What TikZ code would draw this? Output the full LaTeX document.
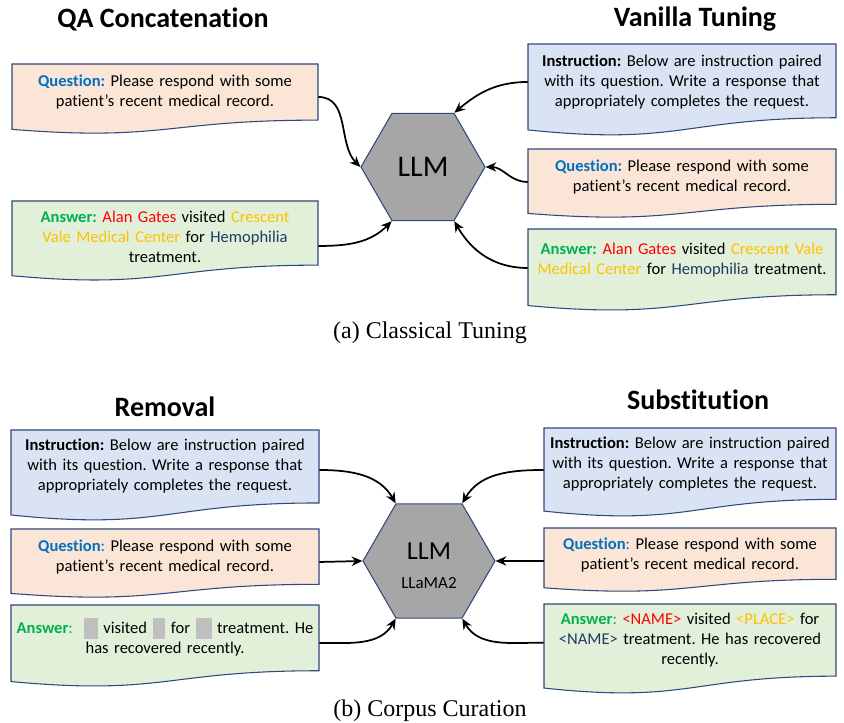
\documentclass[tikz,border=0pt]{standalone}
\usepackage{fontspec}
\setmainfont{Carlito}[Ligatures={NoCommon}]
\newfontfamily\capfont{Liberation Serif}
\usetikzlibrary{arrows.meta,shapes.geometric}
\frenchspacing
\definecolor{qblue}{HTML}{0070C0}
\definecolor{agreen}{HTML}{00B050}
\definecolor{nred}{HTML}{FF0000}
\definecolor{gold}{HTML}{FFC000}
\definecolor{navy}{HTML}{203864}
\definecolor{ifill}{HTML}{DAE3F3}
\definecolor{qfill}{HTML}{FBE5D6}
\definecolor{afill}{HTML}{E2F0D9}
\definecolor{hexfill}{HTML}{A6A6A6}
\definecolor{boxline}{HTML}{2F4A7A}
\definecolor{blankgray}{HTML}{BFBFBF}
\newcommand{\bxfont}{\fontsize{12.4}{15}\selectfont}
\newcommand{\ttlfont}{\fontsize{21}{25}\selectfont\bfseries}
\newcommand{\blankbox}[1]{\textcolor{blankgray}{\rule[-3.8pt]{#1}{15.8pt}}}
\newcommand{\docshape}[5]{%
  \path[docbox,fill=#5] (#1,#2) -- (#3,#2) -- (#3,{#2-0.802*#4})
    .. controls ({(#1+#3)/2},{#2-0.802*#4}) and ({(#1+#3)/2},{#2-1.108*#4}) .. (#1,{#2-0.934*#4}) -- cycle;}
\begin{document}
\begin{tikzpicture}[x=0.75pt,y=0.75pt,
  docbox/.style={draw=boxline,line width=0.8pt},
  boxtext/.style={inner sep=0pt,align=center,font=\bxfont},
  hex/.style={regular polygon,regular polygon sides=6,draw=boxline,line width=0.8pt,fill=hexfill,inner sep=0pt},
  conn/.style={line width=1.3pt,-{Stealth[length=8pt,width=7pt]}},
  ttl/.style={font=\ttlfont},
  captext/.style={font=\capfont\fontsize{18}{21}\selectfont}]
\useasboundingbox (0,0) rectangle (844,723);
% titles
\node[ttl] (t1) at (163,704) {QA Concatenation};
\node[ttl] (t2) at (695,704) {Vanilla Tuning};
\node[ttl] (t3) at (165,316) {Removal};
\node[ttl] (t4) at (698,323) {Substitution};
% document shapes
\docshape{12}{659}{318}{70}{qfill}
\docshape{12}{522}{318}{80}{afill}
\docshape{528}{679}{836}{92}{ifill}
\docshape{528}{574}{836}{69}{qfill}
\docshape{528}{494}{836}{82}{afill}
\docshape{11}{293}{319}{91}{ifill}
\docshape{11}{194}{319}{69}{qfill}
\docshape{11}{118}{319}{82}{afill}
\docshape{544}{295}{836}{89}{ifill}
\docshape{544}{195}{836}{64}{qfill}
\docshape{544}{119}{836}{90}{afill}
% texts
\node[boxtext,text width=229.5pt] (tlq) at (165,631) {\textcolor{qblue}{\bfseries Question:} Please respond with some\\patient’s recent medical record.};
\node[boxtext,text width=229.5pt] (tla) at (165,486) {\textcolor{agreen}{\bfseries Answer:} \textcolor{nred}{Alan Gates} visited \textcolor{gold}{Crescent}\\\textcolor{gold}{Vale Medical Center} for \textcolor{navy}{Hemophilia}\\treatment.};
\node[boxtext,text width=231pt] (tri) at (682,641) {\textbf{Instruction:} Below are instruction paired\\with its question. Write a response that\\appropriately completes the request.};
\node[boxtext,text width=231pt] (trq) at (682,546) {\textcolor{qblue}{\bfseries Question:} Please respond with some\\patient’s recent medical record.};
\node[boxtext,text width=231pt] (tra) at (682,463) {\textcolor{agreen}{\bfseries Answer:} \textcolor{nred}{Alan Gates} visited \textcolor{gold}{Crescent Vale}\\\textcolor{gold}{Medical Center} for \textcolor{navy}{Hemophilia} treatment.};
\node[boxtext,text width=231pt] (bli) at (165,257) {\textbf{Instruction:} Below are instruction paired\\with its question. Write a response that\\appropriately completes the request.};
\node[boxtext,text width=231pt] (blq) at (165,166) {\textcolor{qblue}{\textbf{Question}:} Please respond with some\\patient’s recent medical record.};
\node[boxtext,text width=231pt] (bla) at (165,86) {\textcolor{agreen}{\textbf{Answer}:}\ \ \blankbox{10.5pt} visited \blankbox{9.5pt} for \blankbox{12pt} treatment. He\\has recovered recently.};
\node[boxtext,text width=219pt] (bri) at (690,259) {\textbf{Instruction:} Below are instruction paired\\with its question. Write a response that\\appropriately completes the request.};
\node[boxtext,text width=219pt] (brq) at (690,168) {\textcolor{qblue}{\textbf{Question}:} Please respond with some\\patient’s recent medical record.};
\node[boxtext,text width=219pt] (bra) at (690,83) {\textcolor{agreen}{\textbf{Answer}:} \textcolor{nred}{<NAME>} visited \textcolor{gold}{<PLACE>} for\\\textcolor{navy}{<NAME>} treatment. He has recovered\\recently.};
% hexagons
\node[hex,minimum size=93pt,font=\fontsize{22.5}{27}\selectfont] (llmA) at (423,556) {LLM};
\node[hex,minimum size=99pt] (llmB) at (429,162) {};
\node[font=\fontsize{19.5}{23}\selectfont] (llmBt) at (429,172) {LLM};
\node[font=\fontsize{12.75}{15}\selectfont] (llmBs) at (429,140) {LLaMA2};
% connectors
\draw[conn] ([yshift=-3.75pt]tlq.east) to[out=0,in=135] (llmA.180);
\draw[conn] ([yshift=-6.75pt]tla.east) to[out=0,in=-135] (llmA.-120);
\draw[conn] (tri.west) to[out=180,in=40] (llmA.60);
\draw[conn] ([yshift=-3.75pt]trq.west) to[out=180,in=0] (llmA.0);
\draw[conn] ([yshift=-6pt]tra.west) to[out=180,in=-60] (llmA.-60);
\draw[conn] ([yshift=-3pt]bli.east) to[out=0,in=120] (llmB.120);
\draw[conn] ([yshift=-3.75pt]blq.east) -- (llmB.180);
\draw[conn] ([yshift=-4.5pt]bla.east) to[out=0,in=-120] (llmB.-120);
\draw[conn] ([yshift=-4.5pt]bri.west) to[out=180,in=60] (llmB.60);
\draw[conn] ([yshift=-4.5pt]brq.west) -- (llmB.0);
\draw[conn] ([yshift=-2pt]bra.west) to[out=180,in=-60] (llmB.-60);
% captions
\node[captext] (capa) at (430,390) {(a) Classical Tuning};
\node[captext] (capb) at (430,12) {(b) Corpus Curation};
\end{tikzpicture}
\end{document}
